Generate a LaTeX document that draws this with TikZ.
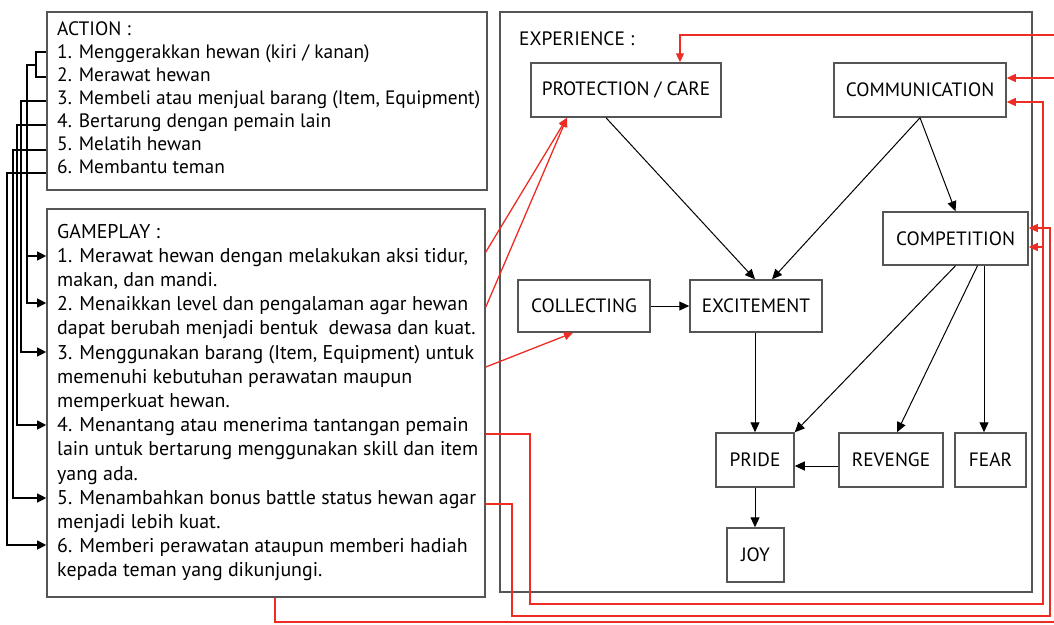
\documentclass[tikz,border=0pt]{standalone}
\usepackage{fontspec}
\setmainfont{PT Sans}
\usetikzlibrary{arrows.meta,calc}
\definecolor{myred}{RGB}{237,45,36}
\definecolor{framegray}{RGB}{85,85,85}
\begin{document}
\begin{tikzpicture}[x=1pt,y=-1pt,
  panel/.style={draw=framegray, line width=1.6pt, rectangle, inner sep=0pt},
  exbox/.style={draw=framegray, line width=1.5pt, rectangle, inner sep=0pt, font=\fontsize{19.3}{21}\selectfont},
  txt/.style={anchor=base west, inner sep=0pt, font=\fontsize{19.4}{21}\selectfont},
  gtxt/.style={txt, font=\fontsize{19.9}{21}\selectfont},
  conn/.style={draw=black, line width=1.1pt},
  tip/.style={conn, -{Triangle[length=9pt,width=9pt]}},
  blk/.style={draw=black, line width=1pt, -{Triangle[length=10pt,width=9pt]}},
  rline/.style={draw=myred, line width=1.3pt},
  rarr/.style={rline, -{Triangle[length=9pt,width=8pt]}}
]
\useasboundingbox (0,0) rectangle (1054,624);
\clip (0,0) rectangle (1054,624);

% panels
\node[panel, minimum width=440pt, minimum height=178pt] (action) at (267,101) {};
\node[panel, minimum width=438pt, minimum height=388pt] (game) at (266,403) {};
\node[panel, minimum width=532pt, minimum height=580pt] (exp) at (766,302) {};

% action text
\foreach \t [count=\i from 0] in {ACTION :,
  {1. Menggerakkan hewan (kiri / kanan)},
  {2. Merawat hewan},
  {3. Membeli atau menjual barang (Item, Equipment)},
  {4. Bertarung dengan pemain lain},
  {5. Melatih hewan},
  {6. Membantu teman}}
  \node[txt] (act\i) at (57,35+23*\i) {\t};

% gameplay text
\foreach \t [count=\i from 0] in {GAMEPLAY :,
  {1. Merawat hewan dengan melakukan aksi tidur,},
  {makan, dan mandi.},
  {2. Menaikkan level dan pengalaman agar hewan},
  {dapat berubah menjadi bentuk\ \ dewasa dan kuat.},
  {3. Menggunakan barang (Item, Equipment) untuk},
  {memenuhi kebutuhan perawatan maupun},
  {memperkuat hewan.},
  {4. Menantang atau menerima tantangan pemain},
  {lain untuk bertarung menggunakan skill dan item},
  {yang ada.},
  {5. Menambahkan bonus battle status hewan agar},
  {menjadi lebih kuat.},
  {6. Memberi perawatan ataupun memberi hadiah},
  {kepada teman yang dikunjungi.}}
  \node[gtxt] (gp\i) at (57,238+24.2*\i) {\t};

\node[txt] (exptitle) at (519,45) {EXPERIENCE :};

% experience boxes
\node[exbox, minimum width=190pt, minimum height=54pt] (prot) at (626,90) {PROTECTION / CARE};
\node[exbox, minimum width=172pt, minimum height=54pt] (comm) at (920,90) {COMMUNICATION};
\node[exbox, minimum width=145pt, minimum height=53pt] (compet) at (955.5,238.5) {COMPETITION};
\node[exbox, minimum width=132pt, minimum height=52pt] (collect) at (584,306) {COLLECTING};
\node[exbox, minimum width=132pt, minimum height=52pt] (excite) at (756,306) {EXCITEMENT};
\node[exbox, minimum width=78pt, minimum height=54pt] (pride) at (755,460) {PRIDE};
\node[exbox, minimum width=57pt, minimum height=54pt] (joy) at (755.5,555) {JOY};
\node[exbox, minimum width=104pt, minimum height=54pt] (revenge) at (891,460) {REVENGE};
\node[exbox, minimum width=71pt, minimum height=54pt] (fear) at (990.5,460) {FEAR};

% black arrows in experience
\draw[blk] ([xshift=-20pt]prot.south) -- ([xshift=-1pt]excite.north);
\draw[blk] (comm.south) -- ([xshift=16pt]excite.north);
\draw[blk] (comm.south) -- (compet.north);
\draw[blk] (collect.east) -- (excite.west);
\draw[blk] ([xshift=-1pt]excite.south) -- (pride.north);
\draw[blk] (compet.south) -- (pride.north east);
\draw[blk] ([xshift=22pt]compet.south) -- ([xshift=6pt]revenge.north);
\draw[blk] ([xshift=28.5pt]compet.south) -- ([xshift=28.5pt]compet.south |- fear.north);
\draw[blk] ([yshift=-6pt]revenge.west) -- ([yshift=-6pt]pride.east);
\draw[blk] (pride.south) -- (pride.south |- joy.north);

% left connectors action -> gameplay
\draw[conn] (action.west |- 0,52) -- (36,52) -- (36,77) -- (action.west |- 0,77);
\draw[tip] (36,65) -- (27,65) -- (27,303) -- (game.west |- 0,303);
\draw[tip] (27,256) -- (game.west |- 0,256);
\draw[tip] (action.west |- 0,101) -- (21,101) -- (21,352) -- (game.west |- 0,352);
\draw[tip] (action.west |- 0,125) -- (17,125) -- (17,425) -- (game.west |- 0,425);
\draw[tip] (action.west |- 0,150) -- (13,150) -- (13,498) -- (game.west |- 0,498);
\draw[tip] (action.west |- 0,173) -- (7,173) -- (7,545) -- (game.west |- 0,545);

% red connectors
\draw[rarr] (game.east |- 0,252) -- ([xshift=-59pt]prot.south);
\draw[rarr] (game.east |- 0,307) -- ([xshift=-59pt]prot.south);
\draw[rarr] (game.east |- 0,367) -- ([xshift=-11pt]collect.south);
\coordinate (outer) at (1066,622);
\draw[rarr] (game.south -| 275,0) -- (275,622) -- (outer) -- (1066,35) -- (680,35) -- (680,35 |- prot.north);
\draw[rarr] (1066,78) -- ([yshift=12pt]comm.east);
\draw[rarr] (game.east |- 0,434) -- (530,434) -- (530,604) -- (1043,604) -- (1043,102) -- ([yshift=-12pt]comm.east);
\draw[rarr] (1043,247) -- ([yshift=-8.5pt]compet.east);
\draw[rarr] (game.east |- 0,504) -- (512,504) -- (512,616) -- (1050,616) -- (1050,228) -- ([yshift=10.5pt]compet.east);
\end{tikzpicture}
\end{document}
